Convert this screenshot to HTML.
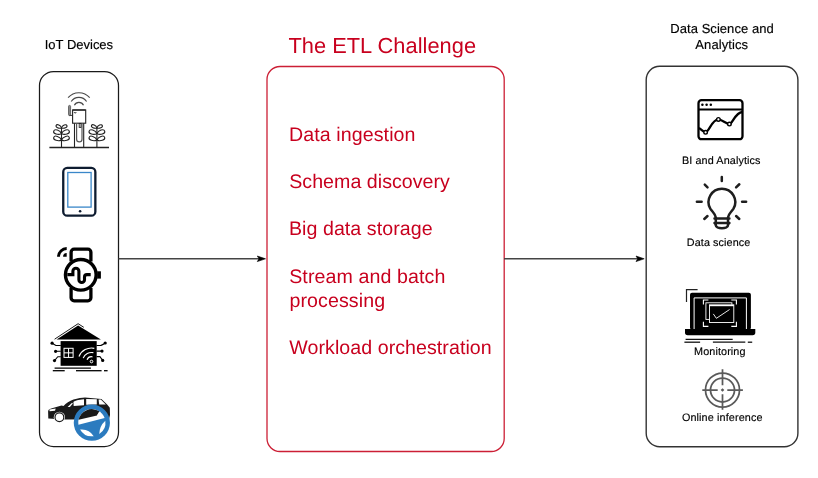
<!DOCTYPE html>
<html><head><meta charset="utf-8">
<style>
html,body{margin:0;padding:0;background:#fff;}
body{width:818px;height:478px;overflow:hidden;}
svg{display:block;will-change:transform;}
text{font-family:"Liberation Sans",sans-serif;text-rendering:geometricPrecision;}
</style></head>
<body>
<svg width="818" height="478" viewBox="0 0 818 478">
<rect x="0" y="0" width="818" height="478" fill="#fff"/>

<!-- boxes -->
<rect x="39.5" y="71.5" width="79" height="375" rx="14" ry="14" fill="none" stroke="#1a1a1a" stroke-width="1.25"/>
<rect x="267" y="66.5" width="237.2" height="385" rx="13" ry="13" fill="none" stroke="#cc1f35" stroke-width="1.3"/>
<rect x="646.2" y="66.3" width="151.7" height="380.4" rx="13.5" ry="13.5" fill="none" stroke="#333" stroke-width="1.4"/>

<!-- arrows -->
<line x1="118.5" y1="258.8" x2="259" y2="258.8" stroke="#444" stroke-width="1.4"/>
<path d="M265.5 258.8 L257.3 261.6 L259 258.8 L257.3 256 Z" fill="#000" stroke="#000" stroke-width="0.6"/>
<line x1="504" y1="258.8" x2="638" y2="258.8" stroke="#444" stroke-width="1.4"/>
<path d="M644.2 258.8 L636 261.6 L637.7 258.8 L636 256 Z" fill="#000" stroke="#000" stroke-width="0.6"/>

<!-- titles -->
<g fill="#000" stroke="#000" stroke-width="0.15">
<text x="44.7" y="48.7" font-size="13" textLength="68.4" lengthAdjust="spacing">IoT Devices</text>
<text x="670.3" y="32.8" font-size="13" textLength="103.4" lengthAdjust="spacing">Data Science and</text>
<text x="695.3" y="48.65" font-size="13" textLength="52.8" lengthAdjust="spacing">Analytics</text>
</g>
<g fill="#c8001e">
<text x="288.4" y="52.8" font-size="21.8" textLength="187.6" lengthAdjust="spacing">The ETL Challenge</text>
</g>

<!-- ETL list -->
<g fill="#c8001e">
<text x="289.0" y="140.6" font-size="19.6" textLength="126.5" lengthAdjust="spacing">Data ingestion</text>
<text x="289.2" y="187.5" font-size="19.6" textLength="160.7" lengthAdjust="spacing">Schema discovery</text>
<text x="288.9" y="235" font-size="19.6" textLength="143.7" lengthAdjust="spacing">Big data storage</text>
<text x="289.2" y="282.5" font-size="19.6" textLength="156.1" lengthAdjust="spacing">Stream and batch</text>
<text x="289.4" y="306.5" font-size="19.6" textLength="95.7" lengthAdjust="spacing">processing</text>
<text x="289.3" y="353.7" font-size="19.6" textLength="202.4" lengthAdjust="spacing">Workload orchestration</text>
</g>

<!-- right labels -->
<g fill="#000" stroke="#000" stroke-width="0.15">
<text x="681.9" y="163.7" font-size="10.8" textLength="78.6" lengthAdjust="spacing">BI and Analytics</text>
<text x="686.8" y="246" font-size="10.8" textLength="63.5" lengthAdjust="spacing">Data science</text>
<text x="694.1" y="354.7" font-size="10.8" textLength="51.4" lengthAdjust="spacing">Monitoring</text>
<text x="681.9" y="420.7" font-size="10.8" textLength="80.6" lengthAdjust="spacing">Online inference</text>
</g>

<!-- ICON: sensor + plants -->
<g id="sensor" fill="none" stroke="#222" stroke-width="1.1">
  <line x1="49.4" y1="147.5" x2="109" y2="147.5" stroke-width="1.3"/>
  <g stroke="#4a4a4a" stroke-width="1.15">
  <path d="M68.1 97.7 A14.2 14.2 0 0 1 89.7 97.7"/>
  <path d="M71.2 101.5 A9.3 9.3 0 0 1 86.6 101.5"/>
  <path d="M74.4 105.3 A5 5 0 0 1 83.5 105.3"/>
  </g>
  <rect x="72.6" y="110" width="13.1" height="13.2"/>
  <line x1="72.6" y1="110" x2="85.7" y2="110" stroke-width="1.3"/>
  <path d="M74.2 112 A1 1 0 0 0 76.2 112" stroke-width="0.9"/>
  <rect x="68.5" y="105.4" width="2.1" height="10.2" rx="1" fill="#888" stroke="#444" stroke-width="0.7"/>
  <line x1="69.5" y1="115.4" x2="72.6" y2="115.4" stroke-width="0.9"/>
  <path d="M74.5 123.2 V147.5 M83.7 123.2 V147.5"/>
  <path d="M76.6 123.2 V139.2 A2.7 2.7 0 0 0 82 139.2 V123.2" stroke="#555" stroke-width="1.2"/>
  <rect x="79.2" y="123.4" width="1.8" height="4" stroke-width="0.9"/>
  <line x1="61.5" y1="127.5" x2="61.5" y2="147.5"/>
  <line x1="96.9" y1="127.5" x2="96.9" y2="147.5"/>
  <path d="M0 0 C1.77 -2.01 5.90 -2.01 5.90 0 C5.90 2.01 1.77 2.01 0 0Z" transform="translate(61.5 127.9) rotate(204)"/>
  <path d="M0 0 C1.77 -2.01 5.90 -2.01 5.90 0 C5.90 2.01 1.77 2.01 0 0Z" transform="translate(61.5 127.9) rotate(-24)"/>
  <path d="M0 0 C2.46 -2.76 8.20 -2.76 8.20 0 C8.20 2.76 2.46 2.76 0 0Z" transform="translate(61.5 133.6) rotate(198)"/>
  <path d="M0 0 C2.46 -2.76 8.20 -2.76 8.20 0 C8.20 2.76 2.46 2.76 0 0Z" transform="translate(61.5 133.6) rotate(-18)"/>
  <path d="M0 0 C2.46 -2.76 8.20 -2.76 8.20 0 C8.20 2.76 2.46 2.76 0 0Z" transform="translate(61.5 140) rotate(199)"/>
  <path d="M0 0 C2.46 -2.76 8.20 -2.76 8.20 0 C8.20 2.76 2.46 2.76 0 0Z" transform="translate(61.5 140) rotate(-19)"/>
  <path d="M0 0 C1.77 -2.01 5.90 -2.01 5.90 0 C5.90 2.01 1.77 2.01 0 0Z" transform="translate(96.9 127.9) rotate(204)"/>
  <path d="M0 0 C1.77 -2.01 5.90 -2.01 5.90 0 C5.90 2.01 1.77 2.01 0 0Z" transform="translate(96.9 127.9) rotate(-24)"/>
  <path d="M0 0 C2.46 -2.76 8.20 -2.76 8.20 0 C8.20 2.76 2.46 2.76 0 0Z" transform="translate(96.9 133.6) rotate(198)"/>
  <path d="M0 0 C2.46 -2.76 8.20 -2.76 8.20 0 C8.20 2.76 2.46 2.76 0 0Z" transform="translate(96.9 133.6) rotate(-18)"/>
  <path d="M0 0 C2.46 -2.76 8.20 -2.76 8.20 0 C8.20 2.76 2.46 2.76 0 0Z" transform="translate(96.9 140) rotate(199)"/>
  <path d="M0 0 C2.46 -2.76 8.20 -2.76 8.20 0 C8.20 2.76 2.46 2.76 0 0Z" transform="translate(96.9 140) rotate(-19)"/>
</g>

<!-- ICON: tablet -->
<rect x="63.25" y="167.95" width="32.1" height="47.7" rx="4" fill="none" stroke="#0e1c30" stroke-width="2.3"/>
<rect x="67.8" y="172.5" width="23.3" height="34.6" fill="none" stroke="#3a87c9" stroke-width="1.3"/>
<circle cx="80.1" cy="211.2" r="1.3" fill="#0e1c30"/>

<!-- ICON: watch -->
<g fill="none" stroke="#000" stroke-width="3.3">
  <circle cx="80.8" cy="274.8" r="15.35" stroke-width="3.4"/>
  <path d="M71.1 261.5 V252.2 a3 3 0 0 1 3 -3 H87.9 a3 3 0 0 1 3 3 V261.5"/>
  <path d="M71.1 288 V297.8 a3 3 0 0 0 3 3 H87.9 a3 3 0 0 0 3 -3 V288"/>
  <path d="M67.3 274.6 H72.9 V271.3 A3 3 0 0 1 78.9 271.3 V279.7 A2.8 2.8 0 0 0 84.5 279.7 V277 A2.4 2.4 0 0 1 86.9 274.6 H90.7" stroke-width="3.1"/>
</g>
<path d="M57.1 256.7 A9.6 9.6 0 0 1 66.7 247.1 V250 A6.7 6.7 0 0 0 60 256.7 Z" fill="#000"/>
<path d="M66.7 256.7 H63.1 A3.6 3.6 0 0 1 66.7 253.1 Z" fill="#000"/>
<rect x="97.2" y="271.3" width="3.7" height="7.3" fill="#000"/>

<!-- ICON: smart house -->
<g>
  <path d="M78.1 325.6 L100.9 339.6 H56.6 Z" fill="#000"/>
  <path d="M54.6 339.2 L78.1 323.7 L83.8 327.3" fill="none" stroke="#000" stroke-width="0.9"/>
  <rect x="60.6" y="341.1" width="36.1" height="24.7" fill="#000"/>
  <g fill="none" stroke="#fff" stroke-width="1">
    <rect x="64" y="348.3" width="9.1" height="9.1"/>
    <path d="M68.55 348.3 V357.4 M64 352.85 H73.1"/>
    <path d="M78.98 356.44 A13.5 13.5 0 0 1 94.31 348.30" stroke-width="1.2"/>
    <path d="M83.16 358.13 A9 9 0 0 1 93.37 352.70" stroke-width="1.2"/>
    <path d="M87.05 359.70 A4.8 4.8 0 0 1 92.50 356.80" stroke-width="1.2"/>
    <circle cx="91.5" cy="361.5" r="1.3"/>
  </g>
  <g fill="none" stroke="#000" stroke-width="1.05">
    <path d="M52.1 343.2 L55.9 345.4 H60.8 M55.6 351.3 H60.8 M54.5 360.6 L57.8 356.7 H60.8"/>
    <path d="M96.5 345.5 H100.3 Q101.5 345.5 105.2 343 M96.5 351.1 H102 M96.5 356.6 H99.9 L102.7 360.4"/>
  </g>
  <g fill="#000">
    <circle cx="52.1" cy="343.2" r="1.6"/><circle cx="55.6" cy="351.3" r="1.6"/><circle cx="54.5" cy="360.6" r="1.6"/>
    <circle cx="105.2" cy="343" r="1.6"/><circle cx="102" cy="351.1" r="1.6"/><circle cx="102.7" cy="360.4" r="1.6"/>
  </g>
  <g stroke="#000" stroke-width="1.3">
    <line x1="54.6" y1="368.2" x2="90.9" y2="368.2"/>
    <line x1="52.8" y1="370.7" x2="64.7" y2="370.7"/>
    <line x1="76" y1="370.7" x2="101.6" y2="370.7"/>
    <line x1="104" y1="370.7" x2="107.6" y2="370.7"/>
  </g>
</g>

<!-- ICON: car + wheel -->
<g>
  <path d="M48.3 418.6 L48.1 411.2 C48.4 409.6 50 408.8 52 408.3 L61.5 405.4 L63.5 405.9 C66 403.4 69.5 400.8 73.5 399.6 C78 398.3 82 397.6 85 397.6 L101.4 398.9 L107.4 404.8 L109.8 407.8 L110 415 L109 419.2 L65 419.6 Z" fill="#1a1a1a"/>
  <path d="M49.4 409.6 L55.7 408.6 L55 410.8 L49.6 411.3 Z" fill="#fff"/>
  <path d="M67.6 406.9 L72 402.8 L72.9 403.4 L69.8 406.9 Z" fill="#fff"/>
  <path d="M73.4 402 C75 400.6 78 399.6 84 399.2 L84 405.2 L73.7 405.9 Z" fill="#fff"/>
  <path d="M86.2 398.9 L96.8 399.3 L96.8 404.5 L86.2 404.8 Z" fill="#fff"/>
  <path d="M98.6 399.4 L100.8 399.5 L105.8 404.5 L99.2 404.6 Z" fill="#fff"/>
  <circle cx="59.4" cy="417.3" r="5.6" fill="#fff"/>
  <circle cx="59.4" cy="417.3" r="4.4" fill="#fff" stroke="#1a1a1a" stroke-width="1.2"/>
  <!-- wheel -->
  <circle cx="91.85" cy="422.7" r="18.1" fill="#2b7bbf"/>
  <path d="M78.42 424.83 A13.6 13.6 0 0 1 104.63 418.05 Z" fill="#fff"/>
  <path d="M78.55 419.87 A13.6 13.6 0 0 1 99.26 411.29 L97 415.6 Z" fill="#1a1a1a"/>
  <path d="M97 415.6 L100.6 412.2" stroke="#fff" stroke-width="1"/>
  <path d="M80.07 429.5 A13.6 13.6 0 0 0 93.74 436.17 Q89 428.5 80.07 429.5 Z" fill="#fff"/>
  <path d="M99.26 434.11 A13.6 13.6 0 0 0 105.32 420.81 Q99.5 426 99.26 434.11 Z" fill="#fff"/>
</g>

<!-- ICON: BI chart window -->
<g fill="none" stroke="#000" stroke-width="2.3">
  <rect x="698.5" y="100.2" width="44" height="39" rx="3"/>
  <line x1="698.5" y1="109.4" x2="742.5" y2="109.4" stroke-width="2"/>
  <path d="M699 128 C702 130 703.5 132.5 705.6 132.3 C709 131.9 712 119.4 718.4 119.4 C722 119.4 726 124.1 729.4 124.1 C732.6 124.1 735 112.6 742.4 112" stroke-linejoin="round"/>
</g>
<g fill="#000">
  <circle cx="702.4" cy="104.7" r="1.25"/><circle cx="706.6" cy="104.7" r="1.25"/><circle cx="710.8" cy="104.7" r="1.25"/>
</g>
<g fill="#fff" stroke="#000" stroke-width="1.4">
  <circle cx="705.6" cy="132.3" r="1.8"/><circle cx="718.4" cy="119.4" r="1.8"/><circle cx="729.4" cy="124.1" r="1.8"/>
</g>

<!-- ICON: bulb -->
<g fill="none" stroke="#1e1e1e" stroke-width="2.5" stroke-linecap="round" stroke-linejoin="round">
  <path d="M715.8 224.6 V217.3 C715.5 214 712.5 212 710.3 208.6 A13.35 13.35 0 1 1 733.5 208.6 C731.3 212 728.3 214 728 217.3 V224.6"/>
  <path d="M714.5 218.5 H729.4 M714.5 223 H729.4"/>
  <path d="M715.6 224.6 C715.6 229.6 728.2 229.6 728.2 224.6"/>
  <line x1="721.80" y1="176.90" x2="721.80" y2="180.90"/>
  <line x1="696.90" y1="201.80" x2="701.60" y2="201.80"/>
  <line x1="742.10" y1="201.80" x2="746.10" y2="201.80"/>
  <line x1="704.79" y1="184.67" x2="707.51" y2="187.33"/>
  <line x1="739.31" y1="184.26" x2="736.09" y2="187.34"/>
  <line x1="704.31" y1="218.96" x2="707.49" y2="216.04"/>
  <line x1="739.29" y1="218.96" x2="736.11" y2="216.04"/>
</g>

<!-- ICON: monitoring laptop -->
<g>
  <path d="M686.5 301.9 V289.6 H697.6" fill="none" stroke="#222" stroke-width="1.2"/>
  <rect x="690" y="292.8" width="60.9" height="37" rx="2" fill="#000"/>
  <path d="M685 329 H755.3 V332.5 a2.7 2.7 0 0 1 -2.7 2.7 H687.7 a2.7 2.7 0 0 1 -2.7 -2.7 Z" fill="#000"/>
  <path d="M694.1 329 V297.9 H746.4 V329" fill="none" stroke="#fff" stroke-width="1"/>
  <g fill="none" stroke="#fff" stroke-width="0.9">
    <path d="M703.4 304.6 V300 H708.4 M731.3 300 H736.4 V304.6 M736.4 321.8 V326.4 H731.3 M708.4 326.4 H703.4 V321.8" stroke-width="1.1"/>
    <rect x="705.9" y="302.8" width="26" height="16.6"/>
    <rect x="709.5" y="304.8" width="24.3" height="17.7" fill="#000"/>
    <line x1="709.5" y1="305.6" x2="733.8" y2="305.6" stroke-width="1.2"/>
    <path d="M713.3 313.9 L716.4 318.3 L729.6 309.5"/>
  </g>
  <g stroke="#111" stroke-width="1.3">
    <line x1="685.6" y1="339.4" x2="732.7" y2="339.4"/>
    <line x1="684.4" y1="342.2" x2="700.1" y2="342.2"/>
    <line x1="712.9" y1="342.2" x2="745.3" y2="342.2"/>
    <line x1="747.8" y1="342.2" x2="752.2" y2="342.2"/>
  </g>
</g>

<!-- ICON: crosshair -->
<g fill="none" stroke="#5a5a5a" stroke-width="1.75">
  <circle cx="722.5" cy="390" r="17"/>
  <circle cx="722.5" cy="390" r="12"/>
  <path d="M722.5 369.3 V385.3 M722.5 394.3 V409.7 M702.3 390 H717.7 M727.3 390 H742.9"/>
</g>
<rect x="721.2" y="388.7" width="2.6" height="2.6" fill="#5a5a5a" transform="rotate(45 722.5 390)"/>

</svg>
</body></html>
